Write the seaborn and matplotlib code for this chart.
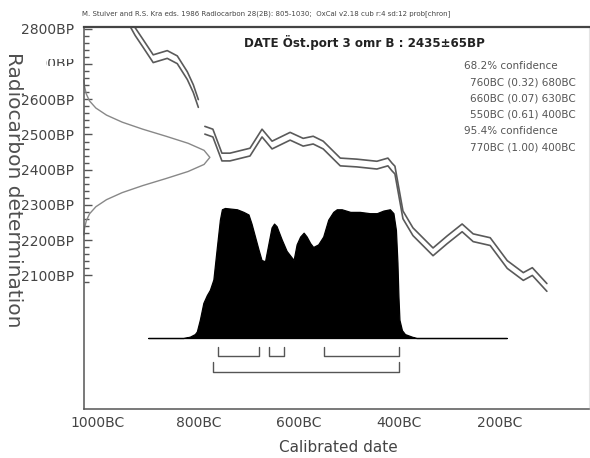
import numpy as np
import pandas as pd
import matplotlib
matplotlib.use("Agg")
import matplotlib.pyplot as plt
from matplotlib.ticker import FixedLocator
from matplotlib.transforms import Bbox
import seaborn as sns

# radiocarbon determination
DATE_LABEL = "DATE Öst.port 3 omr B : 2435±65BP"
RC_BP = [2655, 2635, 2615, 2595, 2575, 2555, 2535, 2515, 2495, 2475, 2455, 2435,
         2415, 2395, 2375, 2355, 2335, 2315, 2295, 2275, 2255, 2235, 2215]
RC_P = [0.003, 0.009, 0.022, 0.048, 0.098, 0.182, 0.306, 0.469, 0.653, 0.828, 0.954, 1.0,
        0.954, 0.828, 0.653, 0.469, 0.306, 0.182, 0.098, 0.048, 0.022, 0.009, 0.003]

# calibration curve (mean, BC years), two drawn pieces
CAL_SEG = [0] * 10 + [1] * 28
CAL_BC = [935, 926, 910, 890, 876, 862, 842, 822, 810, 800,
          787, 771, 753, 737, 697, 673, 653, 617, 591, 571, 551, 517, 484, 444,
          422, 414, 408, 392, 372, 332, 304, 274, 252, 218, 184, 152, 134, 105]
CAL_BP = [2815, 2792, 2758, 2715, 2721, 2727, 2712, 2667, 2630, 2588,
          2512, 2504, 2436, 2436, 2450, 2504, 2470, 2495, 2478, 2484, 2470, 2422, 2419, 2413,
          2422, 2408, 2399, 2272, 2224, 2167, 2201, 2235, 2207, 2196, 2131, 2097, 2111, 2066]
CAL_SD = 11

# calibrated (posterior) distribution
POST_BC = [900, 830, 817, 807, 803, 797, 790, 783, 777, 770, 763, 757, 753, 747, 723,
           710, 700, 694, 687, 680, 674, 667, 660, 654, 649, 644, 634, 624, 610, 604,
           597, 590, 584, 577, 571, 561, 551, 541, 531, 524, 514, 497, 478, 458, 444,
           431, 418, 411, 406, 403, 401, 399, 394, 388, 374, 365, 185]
POST_P = [0, 0, 0.01, 0.03, 0.05, 0.14, 0.27, 0.33, 0.37, 0.45, 0.70, 0.91, 0.99, 1.0, 0.99,
          0.97, 0.95, 0.88, 0.78, 0.68, 0.60, 0.59, 0.73, 0.85, 0.88, 0.86, 0.76, 0.67, 0.60, 0.72,
          0.78, 0.81, 0.78, 0.73, 0.70, 0.72, 0.78, 0.91, 0.97, 0.99, 0.99, 0.97, 0.97, 0.96, 0.96,
          0.98, 0.99, 0.96, 0.83, 0.58, 0.32, 0.14, 0.06, 0.03, 0.01, 0, 0]

RANGES_68 = [(760, 680), (660, 630), (550, 400)]
PROBS_68 = [0.32, 0.07, 0.61]
RANGES_95 = [(770, 400)]
PROBS_95 = [1.00]

X_MAJOR = [1000, 800, 600, 400, 200]
X_MINOR = [900, 700, 500, 300, 100]
Y_MAJOR = [2100, 2200, 2300, 2400, 2500, 2600, 2700, 2800]
Y_MINOR = [v for v in range(2080, 2800, 20) if v % 100]

sns.set_style("white")
plt.rcParams["font.family"] = ["DejaVu Sans"]

GREY = "#555555"
fig = plt.figure(figsize=(5.9, 4.58), dpi=100)
ax = fig.add_axes([83.5 / 590, 1 - 409 / 458, 505.5 / 590, 382 / 458])

cal = pd.DataFrame({"bc": CAL_BC, "bp": CAL_BP, "seg": CAL_SEG})
for sign in (1, -1):
    d = cal.assign(bp=cal["bp"] + sign * CAL_SD)
    sns.lineplot(data=d, x="bc", y="bp", units="seg", estimator=None, sort=False,
                 color="#5a5a5a", lw=1.2, ax=ax)

# radiocarbon date, drawn from the left axis
ax.plot(np.array(RC_P) * 0.25, RC_BP, color="#888888", lw=1.0,
        transform=ax.get_yaxis_transform(), clip_on=False)

ax.set_xlim(1029, 21)
ax.set_ylim(1721, 2805)
ax.xaxis.set_major_locator(FixedLocator(X_MAJOR))
ax.xaxis.set_minor_locator(FixedLocator(X_MINOR))
ax.set_xticklabels([f"{v}BC" for v in X_MAJOR])
ax.yaxis.set_major_locator(FixedLocator(Y_MAJOR))
ax.yaxis.set_minor_locator(FixedLocator(Y_MINOR))
ax.set_yticklabels(["" if v == 2700 else f"{v}BP" for v in Y_MAJOR])
ax.tick_params(axis="x", which="major", direction="in", length=7.5, width=1, color=GREY,
               labelsize=10, labelcolor="#444444", pad=5)
ax.tick_params(axis="x", which="minor", direction="in", length=4, width=1, color=GREY)
ax.tick_params(axis="y", which="major", direction="in", length=6, width=1, color=GREY,
               labelsize=10, labelcolor="#444444", pad=7)
ax.tick_params(axis="y", which="minor", direction="in", length=3.8, width=1, color=GREY)
ax.set_xlabel("")
ax.set_ylabel("")
for side in ("left", "bottom"):
    ax.spines[side].set_color(GREY)
    ax.spines[side].set_linewidth(1.1)
ax.spines["top"].set_color("#444444")
ax.spines["top"].set_linewidth(1.6)
ax.spines["right"].set_color("#e4e4e4")
ax.spines["right"].set_linewidth(0.8)

# half-hidden 2700BP label as in the original
t = ax.text(-0.018, 2700, "2700BP", transform=ax.get_yaxis_transform(), ha="right",
            va="center", fontsize=10, color="#444444")
t.set_clip_on(True)
t.set_clip_box(Bbox.from_extents(46, 458 - 66, 80, 458 - 59))

# posterior on its own vertical scale
ax2 = ax.twinx()
ax2.set_ylim(-0.546, 2.392)
ax2.fill_between(POST_BC, 0, POST_P, color="black", lw=0.9, edgecolor="black")
for (s, e) in RANGES_68:
    ax2.plot([s, s, e, e], [-0.069, -0.138, -0.138, -0.069], color=GREY, lw=1)
for (s, e) in RANGES_95:
    ax2.plot([s, s, e, e], [-0.185, -0.262, -0.262, -0.185], color=GREY, lw=1)
ax2.set_yticks([])
for sp in ax2.spines.values():
    sp.set_visible(False)
ax2.set_xlim(1029, 21)

fig.text(82 / 590, 1 - 14 / 458,
         "M. Stuiver and R.S. Kra eds. 1986 Radiocarbon 28(2B): 805-1030;  "
         "OxCal v2.18 cub r:4 sd:12 prob[chron]",
         fontsize=5.05, color="#444444", va="center")
fig.text(244 / 590, 1 - 42 / 458, DATE_LABEL, fontsize=8.6, fontweight="bold",
         color="#222222", va="center")

lines = [("68.2% confidence", 0)]
lines += [(f"{s}BC ({p:.2f}) {e}BC", 1) for (s, e), p in zip(RANGES_68, PROBS_68)]
lines += [("95.4% confidence", 0)]
lines += [(f"{s}BC ({p:.2f}) {e}BC", 1) for (s, e), p in zip(RANGES_95, PROBS_95)]
for i, (txt, ind) in enumerate(lines):
    fig.text((464 + 6 * ind) / 590, 1 - (66 + 16.3 * i) / 458, txt, fontsize=7.5,
             color="#555555", va="center")

fig.text(13 / 590, 1 - 190 / 458, "Radiocarbon determination", rotation=270,
         ha="center", va="center", fontsize=14.5, color="#505050")
fig.text(338 / 590, 1 - 447 / 458, "Calibrated date", ha="center", va="center",
         fontsize=11, color="#444444")

fig.savefig("out.png", dpi=100)
